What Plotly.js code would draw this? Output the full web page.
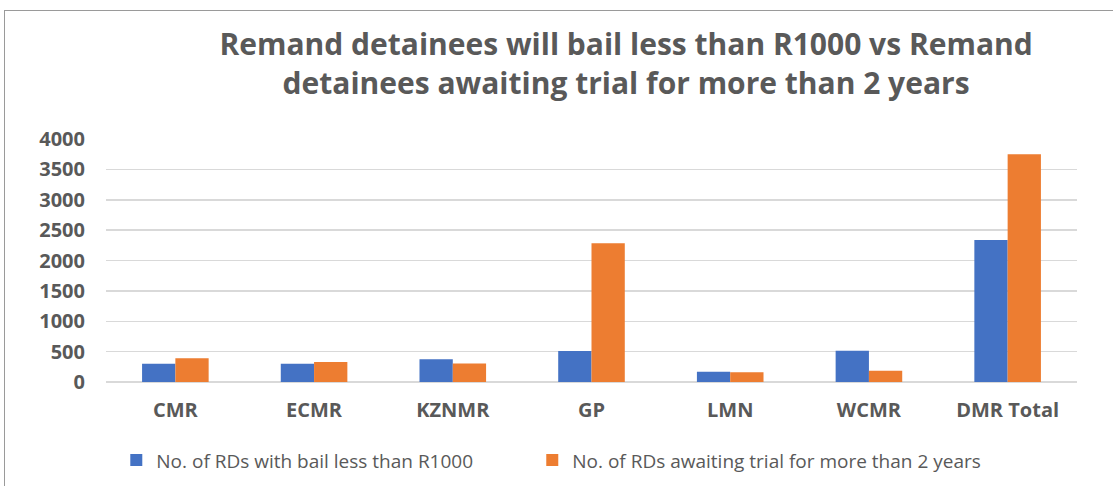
<!DOCTYPE html>
<html>
<head>
<meta charset="utf-8">
<script src="https://cdn.plot.ly/plotly-3.0.1.min.js"></script>
<style>
  html, body { margin: 0; padding: 0; background: #ffffff; }
  #chart { width: 1113px; height: 486px; }
  #frame { position: absolute; left: 4px; top: 10px; width: 1120px; height: 500px;
           border-left: 1.5px solid #9a9a9a; border-top: 1.5px solid #9a9a9a; pointer-events: none; }
</style>
</head>
<body>
<div id="chart"></div>
<div id="frame"></div>
<script>
const categories = ["CMR", "ECMR", "KZNMR", "GP", "LMN", "WCMR", "DMR Total"];
const bailLessThanR1000 = [300, 300, 373, 510, 170, 515, 2337];
const awaitingTrialOver2Years = [390, 330, 305, 2283, 160, 186, 3748];
const seriesNames = ["No. of RDs with bail less than R1000", "No. of RDs awaiting trial for more than 2 years"];
const yTicks = [0, 500, 1000, 1500, 2000, 2500, 3000, 3500, 4000];

const traces = [
  { type: "bar", name: seriesNames[0], x: categories, y: bailLessThanR1000,
    marker: { color: "#4472C4" }, legend: "legend" },
  { type: "bar", name: seriesNames[1], x: categories, y: awaitingTrialOver2Years,
    marker: { color: "#ED7D31" }, legend: "legend2" }
];

const legendFont = { family: "Open Sans", size: 19, color: "#595959" };

const layout = {
  width: 1113, height: 486,
  paper_bgcolor: "#ffffff", plot_bgcolor: "#ffffff",
  margin: { l: 106, r: 36, t: 139, b: 104, autoexpand: false },
  barmode: "group", bargap: 0.52, bargroupgap: 0,
  title: {
    text: "Remand detainees will bail less than R1000 vs Remand<br>detainees awaiting trial for more than 2 years",
    font: { family: "Open Sans", size: 30, color: "#595959", weight: "bold" },
    x: 0.5625, xanchor: "center", y: 0.886, yanchor: "middle"
  },
  xaxis: {
    type: "category", showgrid: false, showline: false, zeroline: false,
    ticks: "", ticklabelstandoff: 14, automargin: false,
    tickfont: { family: "Open Sans", size: 20, color: "#595959", weight: "bold" }
  },
  yaxis: {
    range: [0, 4000], tickvals: yTicks, ticktext: yTicks.map(String),
    showgrid: true, gridcolor: "#d9d9d9", gridwidth: 1.5,
    zeroline: true, zerolinecolor: "#d9d9d9", zerolinewidth: 1.5,
    showline: false, ticks: "", ticklabelstandoff: 20, automargin: false,
    tickfont: { family: "Open Sans", size: 20, color: "#595959", weight: "bold" }
  },
  showlegend: true,
  legend: {
    orientation: "h", x: 0.0106, xanchor: "left", y: -0.322, yanchor: "middle",
    font: legendFont, itemwidth: 30, bgcolor: "rgba(0,0,0,0)"
  },
  legend2: {
    orientation: "h", x: 0.439, xanchor: "left", y: -0.322, yanchor: "middle",
    font: legendFont, itemwidth: 30, bgcolor: "rgba(0,0,0,0)"
  }
};

Plotly.newPlot("chart", traces, layout, { displayModeBar: false, staticPlot: true });
</script>
</body>
</html>
